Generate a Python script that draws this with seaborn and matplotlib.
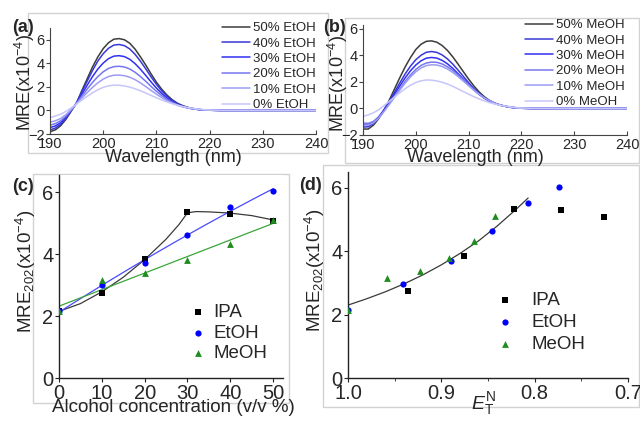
import numpy as np
import pandas as pd
import seaborn as sns
import matplotlib.pyplot as plt
from matplotlib.patches import Rectangle
from matplotlib.ticker import MultipleLocator

sns.set_style("ticks")
plt.rcParams["font.family"] = ["Liberation Sans", "DejaVu Sans"]
plt.rcParams["mathtext.fontset"] = "custom"
plt.rcParams["mathtext.rm"] = "Liberation Sans"
plt.rcParams["mathtext.it"] = "Liberation Sans:italic"
plt.rcParams["mathtext.default"] = "regular"

# ---- CD spectra (a) EtOH, (b) MeOH ----
wl = [190, 191, 192, 193, 194, 195, 196, 197, 198, 199, 200, 201, 202, 203, 204, 205, 206,
      207, 208, 209, 210, 211, 212, 213, 214, 215, 216, 217, 218, 219, 220, 222, 240]

etoh_50 = [-1.80, -1.65, -1.30, -0.75, -0.05, 0.65, 1.70, 2.70, 3.70, 4.55, 5.25, 5.75, 6.05, 6.10, 6.00, 5.70, 5.20,
           4.55, 3.85, 3.10, 2.40, 1.80, 1.30, 0.90, 0.60, 0.40, 0.25, 0.15, 0.08, 0.04, 0.02, 0.0, 0.0]
etoh_40 = [-1.65, -1.50, -1.18, -0.68, -0.02, 0.65, 1.60, 2.50, 3.40, 4.20, 4.82, 5.28, 5.55, 5.60, 5.50, 5.22, 4.76,
           4.18, 3.53, 2.85, 2.22, 1.66, 1.20, 0.84, 0.56, 0.37, 0.23, 0.14, 0.08, 0.04, 0.02, 0.0, 0.0]
etoh_30 = [-1.45, -1.32, -1.04, -0.58, 0.02, 0.65, 1.40, 2.15, 2.88, 3.52, 4.02, 4.40, 4.61, 4.65, 4.57, 4.34, 3.97,
           3.50, 2.97, 2.42, 1.90, 1.44, 1.05, 0.74, 0.50, 0.33, 0.21, 0.13, 0.07, 0.04, 0.02, 0.0, 0.0]
etoh_20 = [-1.25, -1.12, -0.88, -0.48, 0.05, 0.62, 1.22, 1.82, 2.38, 2.88, 3.28, 3.57, 3.72, 3.75, 3.69, 3.52, 3.24,
           2.88, 2.47, 2.04, 1.63, 1.26, 0.94, 0.68, 0.47, 0.32, 0.21, 0.13, 0.08, 0.04, 0.02, 0.0, 0.0]
etoh_10 = [-1.00, -0.88, -0.68, -0.36, 0.08, 0.58, 1.06, 1.52, 1.96, 2.35, 2.66, 2.88, 2.99, 3.00, 2.95, 2.82, 2.61,
           2.34, 2.03, 1.70, 1.38, 1.09, 0.83, 0.61, 0.43, 0.30, 0.20, 0.13, 0.08, 0.04, 0.02, 0.0, 0.0]
water_0 = [-0.60, -0.48, -0.32, -0.08, 0.22, 0.55, 0.88, 1.20, 1.50, 1.76, 1.96, 2.09, 2.15, 2.14, 2.08, 1.98, 1.84,
           1.67, 1.48, 1.28, 1.08, 0.89, 0.72, 0.57, 0.44, 0.33, 0.24, 0.17, 0.11, 0.07, 0.04, 0.01, 0.0]

meoh_50 = [-1.55, -1.55, -1.25, -0.75, -0.10, 0.65, 1.50, 2.35, 3.15, 3.85, 4.45, 4.85, 5.07, 5.10, 5.00, 4.75, 4.38,
           3.90, 3.35, 2.78, 2.22, 1.70, 1.25, 0.88, 0.60, 0.40, 0.26, 0.16, 0.09, 0.05, 0.02, 0.0, 0.0]
meoh_40 = [-1.40, -1.38, -1.12, -0.68, -0.10, 0.55, 1.25, 1.95, 2.62, 3.20, 3.68, 4.02, 4.24, 4.30, 4.23, 4.04, 3.74,
           3.35, 2.90, 2.42, 1.95, 1.51, 1.13, 0.81, 0.56, 0.38, 0.25, 0.16, 0.09, 0.05, 0.02, 0.0, 0.0]
meoh_30 = [-1.20, -1.20, -1.00, -0.62, -0.10, 0.48, 1.10, 1.72, 2.32, 2.85, 3.28, 3.60, 3.80, 3.85, 3.80, 3.63, 3.37,
           3.03, 2.63, 2.21, 1.79, 1.40, 1.06, 0.77, 0.54, 0.37, 0.25, 0.16, 0.09, 0.05, 0.02, 0.0, 0.0]
meoh_20 = [-1.10, -1.12, -0.98, -0.65, -0.18, 0.36, 0.93, 1.50, 2.05, 2.54, 2.95, 3.25, 3.43, 3.50, 3.48, 3.36, 3.15,
           2.87, 2.53, 2.16, 1.78, 1.42, 1.09, 0.80, 0.57, 0.39, 0.26, 0.17, 0.10, 0.05, 0.02, 0.0, 0.0]
meoh_10 = [-1.25, -1.25, -1.08, -0.72, -0.22, 0.32, 0.86, 1.40, 1.92, 2.38, 2.77, 3.06, 3.24, 3.30, 3.28, 3.17, 2.98,
           2.72, 2.41, 2.07, 1.72, 1.38, 1.07, 0.80, 0.58, 0.40, 0.27, 0.17, 0.10, 0.05, 0.02, 0.0, 0.0]

pct_labels = ["50%", "40%", "30%", "20%", "10%", "0%"]
spec_colors = ["#3c3c3c", "#3838d8", "#3030f2", "#7676f0", "#9c9cf6", "#c6c6fb"]

# ---- MRE202 vs alcohol concentration (c) ----
conc = [0, 10, 20, 30, 40, 50]
ipa_mre = [2.15, 2.75, 3.85, 5.35, 5.30, 5.08]
etoh_mre = [2.15, 3.00, 3.70, 4.63, 5.52, 6.03]
meoh_mre = [2.15, 3.15, 3.38, 3.82, 4.32, 5.10]
ipa_fit_x = [0, 5, 10, 15, 20, 25, 28, 30, 32, 35, 40, 45, 50]
ipa_fit_y = [2.15, 2.40, 2.78, 3.25, 3.82, 4.48, 4.95, 5.33, 5.37, 5.36, 5.32, 5.24, 5.10]

# ---- MRE202 vs E_T^N (d) ----
ipa_et = [0.936, 0.876, 0.822, 0.772, 0.726]
ipa_et_mre = [2.74, 3.84, 5.34, 5.31, 5.08]
etoh_et = [1.0, 0.941, 0.890, 0.846, 0.807, 0.774]
etoh_et_mre = [2.15, 2.98, 3.70, 4.63, 5.53, 6.02]
meoh_et = [1.0, 0.958, 0.9225, 0.892, 0.865, 0.8425]
meoh_et_mre = [2.15, 3.14, 3.37, 3.80, 4.31, 5.11]
et_fit_x = [1.0, 0.98, 0.96, 0.94, 0.92, 0.90, 0.88, 0.86, 0.84, 0.82, 0.807]
et_fit_y = [2.30, 2.50, 2.72, 2.97, 3.25, 3.57, 3.93, 4.33, 4.80, 5.32, 5.68]

W, H = 640, 421
fig = plt.figure(figsize=(6.4, 4.21), dpi=100)


def box(l, t, r, b):
    return [l / W, 1 - b / H, (r - l) / W, (b - t) / H]


def fxy(x, y):
    return x / W, 1 - y / H


# light grey panel frames
for l, t, r, b in [(28, 13, 328, 153), (345, 18, 639, 163), (33, 174, 289, 403), (323, 165, 639, 407)]:
    fig.add_artist(Rectangle((l / W, 1 - b / H), (r - l) / W, (b - t) / H, transform=fig.transFigure,
                             fill=False, ec="#d2d2d2", lw=1, zorder=0))


def spectra(ax, curves, solvent, ytop, xlab, ylab, leg):
    for vals, p, col in zip(curves, pct_labels, spec_colors):
        sns.lineplot(x=wl, y=vals, color=col, lw=1.1, label=p + " " + solvent, ax=ax)
    ax.set_xlim(190, 240)
    ax.set_ylim(-2, ytop)
    ax.set_xticks(range(190, 241, 10))
    ax.set_yticks([-2, 0, 2, 4, 6])
    sns.despine(ax=ax)
    for s in ["left", "bottom"]:
        ax.spines[s].set_color("#444444")
        ax.spines[s].set_linewidth(0.8)
    ax.tick_params(axis="x", direction="in", length=3, labelsize=10.5, pad=2, color="#444444")
    ax.tick_params(axis="y", direction="out", length=3, labelsize=10.5, pad=1, color="#444444")
    ax.set_xlabel("Wavelength (nm)", fontsize=13)
    ax.set_ylabel("MRE(x10$^{-4}$)", fontsize=13)
    ax.xaxis.label.set_va("center")
    ax.yaxis.label.set_va("center")
    ax.xaxis.set_label_coords(*fxy(*xlab), transform=fig.transFigure)
    ax.yaxis.set_label_coords(*fxy(*ylab), transform=fig.transFigure)
    ax.legend(loc="upper left", bbox_to_anchor=fxy(*leg), bbox_transform=fig.transFigure,
              frameon=False, fontsize=9.5, handlelength=2.1, handletextpad=0.25,
              labelspacing=0.24, borderpad=0, borderaxespad=0)


ax_a = fig.add_axes(box(50, 28, 316, 134))
spectra(ax_a, [etoh_50, etoh_40, etoh_30, etoh_20, etoh_10, water_0], "EtOH", 7,
        (173, 158), (25, 83), (222, 22))

ax_b = fig.add_axes(box(363, 25, 627, 135))
spectra(ax_b, [meoh_50, meoh_40, meoh_30, meoh_20, meoh_10, water_0], "MeOH", 6.3,
        (475, 158), (338, 84), (525, 19))


def mre_axes(ax, xlab_pos, ylab_pos):
    sns.despine(ax=ax)
    for s in ["left", "bottom"]:
        ax.spines[s].set_color("#222222")
        ax.spines[s].set_linewidth(1)
    ax.tick_params(direction="out", length=3, labelsize=14.5, pad=1, color="#222222")
    ax.set_ylabel("MRE$_{202}$(x10$^{-4}$)", fontsize=13.5)
    ax.yaxis.label.set_va("center")
    ax.xaxis.label.set_va("center")
    ax.xaxis.set_label_coords(*fxy(*xlab_pos), transform=fig.transFigure)
    ax.yaxis.set_label_coords(*fxy(*ylab_pos), transform=fig.transFigure)


# (c)
ax_c = fig.add_axes(box(59, 175, 283, 378))
sns.lineplot(x=ipa_fit_x, y=ipa_fit_y, color="#3a3a3a", lw=0.9, ax=ax_c)
sns.regplot(x=conc, y=etoh_mre, order=2, ci=None, scatter=False, truncate=True,
            line_kws=dict(color="#4a4aff", lw=0.9), ax=ax_c)
sns.regplot(x=conc, y=meoh_mre, order=1, ci=None, scatter=False, truncate=True,
            line_kws=dict(color="#3aa53a", lw=0.9), ax=ax_c)
sns.scatterplot(x=conc, y=ipa_mre, marker="s", color="black", s=18, linewidth=0, label="IPA", ax=ax_c, zorder=3)
sns.scatterplot(x=conc, y=etoh_mre, marker="o", color="#0000ff", s=20, linewidth=0, label="EtOH", ax=ax_c, zorder=3)
sns.scatterplot(x=conc, y=meoh_mre, marker="^", color="#1e8c1e", s=24, linewidth=0, label="MeOH", ax=ax_c, zorder=3)
ax_c.set_xlim(0, 52.3)
ax_c.set_ylim(0, 6.55)
ax_c.set_xticks([0, 10, 20, 30, 40, 50])
ax_c.set_yticks([0, 2, 4, 6])
ax_c.set_xlabel("Alcohol concentration (v/v %)", fontsize=13.5)
mre_axes(ax_c, (173, 408), (26, 271))
ax_c.legend(loc="upper left", bbox_to_anchor=fxy(189, 304), bbox_transform=fig.transFigure,
            frameon=False, fontsize=13.5, handlelength=1, handletextpad=0.3,
            labelspacing=0.18, borderpad=0, borderaxespad=0)

# (d)
ax_d = fig.add_axes(box(348, 172, 628, 378))
sns.lineplot(x=et_fit_x, y=et_fit_y, color="#3a3a3a", lw=0.9, sort=False, ax=ax_d)
sns.scatterplot(x=ipa_et, y=ipa_et_mre, marker="s", color="black", s=18, linewidth=0, label="IPA", ax=ax_d, zorder=3)
sns.scatterplot(x=etoh_et, y=etoh_et_mre, marker="o", color="#0000ff", s=20, linewidth=0, label="EtOH", ax=ax_d, zorder=3)
sns.scatterplot(x=meoh_et, y=meoh_et_mre, marker="^", color="#1e8c1e", s=24, linewidth=0, label="MeOH", ax=ax_d, zorder=3)
ax_d.set_xlim(1.0, 0.7)
ax_d.set_ylim(0, 6.5)
ax_d.set_xticks([1.0, 0.9, 0.8, 0.7])
ax_d.set_xticklabels(["1.0", "0.9", "0.8", "0.7"])
ax_d.xaxis.set_minor_locator(MultipleLocator(0.05))
ax_d.tick_params(axis="x", which="minor", direction="out", length=2, color="#222222")
ax_d.set_yticks([0, 2, 4, 6])
ax_d.set_xlabel("$\\mathit{E}_{T}^{N}$", fontsize=14)
mre_axes(ax_d, (483, 404), (315, 270))
ax_d.legend(loc="upper left", bbox_to_anchor=fxy(496, 292), bbox_transform=fig.transFigure,
            frameon=False, fontsize=13.5, handlelength=1, handletextpad=0.9,
            labelspacing=0.26, borderpad=0, borderaxespad=0)

# panel letters
for lab, (x, y) in zip(["(a)", "(b)", "(c)", "(d)"], [(23, 27), (335, 27), (23, 187), (311, 186)]):
    fig.text(*fxy(x, y), lab, fontsize=13, fontweight="bold", ha="center", va="center")

fig.savefig("out.png", dpi=100)
